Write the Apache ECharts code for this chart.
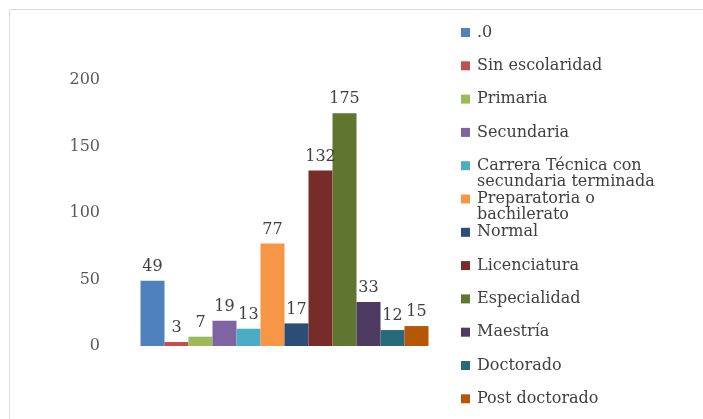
<!DOCTYPE html>
<html><head><meta charset="utf-8">
<script src="https://cdn.jsdelivr.net/npm/echarts@6/dist/echarts.min.js"></script>
<style>html,body{margin:0;padding:0;background:#fff}#c{width:703px;height:419px}</style>
</head><body><div id="c"></div>
<script>
const seriesNames = ['.0','Sin escolaridad','Primaria','Secundaria','Carrera Técnica con\nsecundaria terminada','Preparatoria o\nbachilerato','Normal','Licenciatura','Especialidad','Maestría','Doctorado','Post doctorado'];
const seriesValues = [49,3,7,19,13,77,17,132,175,33,12,15];
const seriesColors = ['#4F81BD','#C0504D','#9BBB59','#8064A2','#4BACC6','#F79646','#2C4D75','#772C2A','#5F7530','#4D3B62','#276A7C','#B65708'];
const categories = [''];
const yTicks = {min:0,max:200,interval:50};

const font = 'DejaVu Serif';
const chart = echarts.init(document.getElementById('c'));
chart.setOption({
  animation:false,
  backgroundColor:'#fff',
  textStyle:{fontFamily:font},
  graphic:[{type:'rect',shape:{x:9.5,y:9.5,width:700,height:420},style:{fill:'none',stroke:'#dadada',lineWidth:1}}],
  grid:{left:110,right:244,top:80,bottom:73},
  legend:{
    orient:'vertical',left:461,top:24.5,height:600,padding:0,itemWidth:9,itemHeight:32,itemGap:1.3,
    icon:'path://M0,3.5L9,3.5L9,12.5L0,12.5Z M0,0L0,0 M9,32L9,32',
    formatter:function(n){ return n.indexOf('\n') >= 0 ? n : n + '\n '; },
    textStyle:{fontFamily:font,fontSize:16,lineHeight:16,color:'#404040',padding:[0,0,0,2]},
    data:seriesNames
  },
  xAxis:{type:'category',data:categories,axisLine:{show:false},axisTick:{show:false},axisLabel:{show:false},splitLine:{show:false}},
  yAxis:{type:'value',min:yTicks.min,max:yTicks.max,interval:yTicks.interval,
    axisLine:{show:false},axisTick:{show:false},splitLine:{show:false},
    axisLabel:{fontFamily:font,fontSize:16,color:'#595959',margin:10}},
  series:seriesNames.map((n,i)=>({
    name:n,type:'bar',data:[seriesValues[i]],barWidth:24,barGap:'0%',
    itemStyle:{color:seriesColors[i]},
    label:{show:true,position:'top',distance:6,fontFamily:font,fontSize:16,color:'#404040'}
  }))
});
</script></body></html>
